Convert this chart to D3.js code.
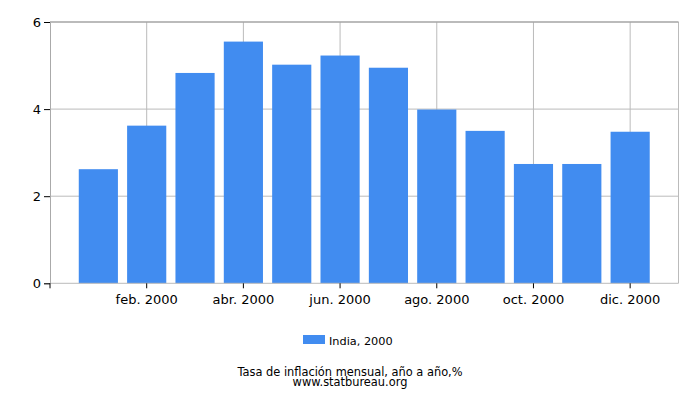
<!DOCTYPE html>
<html><head><meta charset="utf-8">
<script src="https://cdn.jsdelivr.net/npm/d3@7"></script>
<style>body{margin:0;background:#fff}svg{display:block}text{font-family:"DejaVu Sans",sans-serif;fill:#000}</style>
</head><body><svg id="c" width="700" height="400"></svg>
<script>
const months = ["ene. 2000","feb. 2000","mar. 2000","abr. 2000","may. 2000","jun. 2000","jul. 2000","ago. 2000","sep. 2000","oct. 2000","nov. 2000","dic. 2000"];
const values = [2.62, 3.62, 4.83, 5.55, 5.02, 5.23, 4.95, 3.99, 3.50, 2.74, 2.74, 3.48];
const tickLabels = ["feb. 2000","abr. 2000","jun. 2000","ago. 2000","oct. 2000","dic. 2000"];
const yTicks = [0, 2, 4, 6];
const seriesName = "India, 2000";
const title = "Tasa de inflación mensual, año a año,%";
const source = "www.statbureau.org";

const svg = d3.select("#c");
const L = 50, R = 678.5, T = 22, B = 283.3;
const step = (R - L) / 13;
const x = d3.scaleBand().domain(months).range([L + step/2, R - step/2]).paddingInner(0.19).paddingOuter(0.095);
const y = d3.scaleLinear().domain([0, 6]).range([B, T]);
const cx = m => x(m) + x.bandwidth()/2;
const color = "#418cf0";

// horizontal grid
svg.append("g").selectAll("line").data(yTicks.filter(d => d > 0)).join("line")
  .attr("x1", L).attr("x2", R).attr("y1", d => y(d)).attr("y2", d => y(d))
  .attr("stroke", "#bbb").attr("stroke-width", 1);
// vertical grid
svg.append("g").selectAll("line").data(tickLabels).join("line")
  .attr("x1", d => cx(d)).attr("x2", d => cx(d)).attr("y1", T).attr("y2", B)
  .attr("stroke", "#bbb").attr("stroke-width", 1);
// border
svg.append("line").attr("x1", R).attr("x2", R).attr("y1", T).attr("y2", B).attr("stroke", "#bbb");
svg.append("line").attr("x1", L).attr("x2", R).attr("y1", T).attr("y2", T).attr("stroke", "#999");

// bars
svg.append("g").selectAll("rect").data(values).join("rect")
  .attr("x", (d, i) => x(months[i])).attr("width", x.bandwidth())
  .attr("y", d => y(d)).attr("height", d => y(0) - y(d))
  .attr("fill", color);

// left axis
const ya = svg.append("g").attr("transform", `translate(${L},0)`)
  .call(d3.axisLeft(y).tickValues(yTicks).tickSize(6).tickPadding(3).tickFormat(d3.format("d")));
ya.select(".domain").attr("stroke", "#aaa");
ya.selectAll(".tick line").attr("stroke", "#000");
ya.selectAll("text").attr("font-size", 13).attr("font-family", "DejaVu Sans");

// bottom axis
const xa = svg.append("g").attr("transform", `translate(0,${B})`)
  .call(d3.axisBottom(x).tickValues(tickLabels).tickSize(5).tickPadding(6));
xa.select(".domain").attr("d", `M${L},0H${R}`).attr("stroke", "#bbb");
xa.selectAll(".tick line").attr("stroke", "#000");
xa.selectAll("text").attr("font-size", 13).attr("font-family", "DejaVu Sans");
svg.append("line").attr("x1", L).attr("x2", L).attr("y1", B).attr("y2", B + 5).attr("stroke", "#000");

// legend
svg.append("rect").attr("x", 303).attr("y", 335).attr("width", 22).attr("height", 9).attr("fill", color);
svg.append("text").attr("x", 329).attr("y", 344.5).attr("font-size", 11.3).text(seriesName);

svg.append("text").attr("x", 350).attr("y", 375.5).attr("text-anchor", "middle").attr("font-size", 11.4).text(title);
svg.append("text").attr("x", 350).attr("y", 386).attr("text-anchor", "middle").attr("font-size", 11.4).text(source);
</script></body></html>
